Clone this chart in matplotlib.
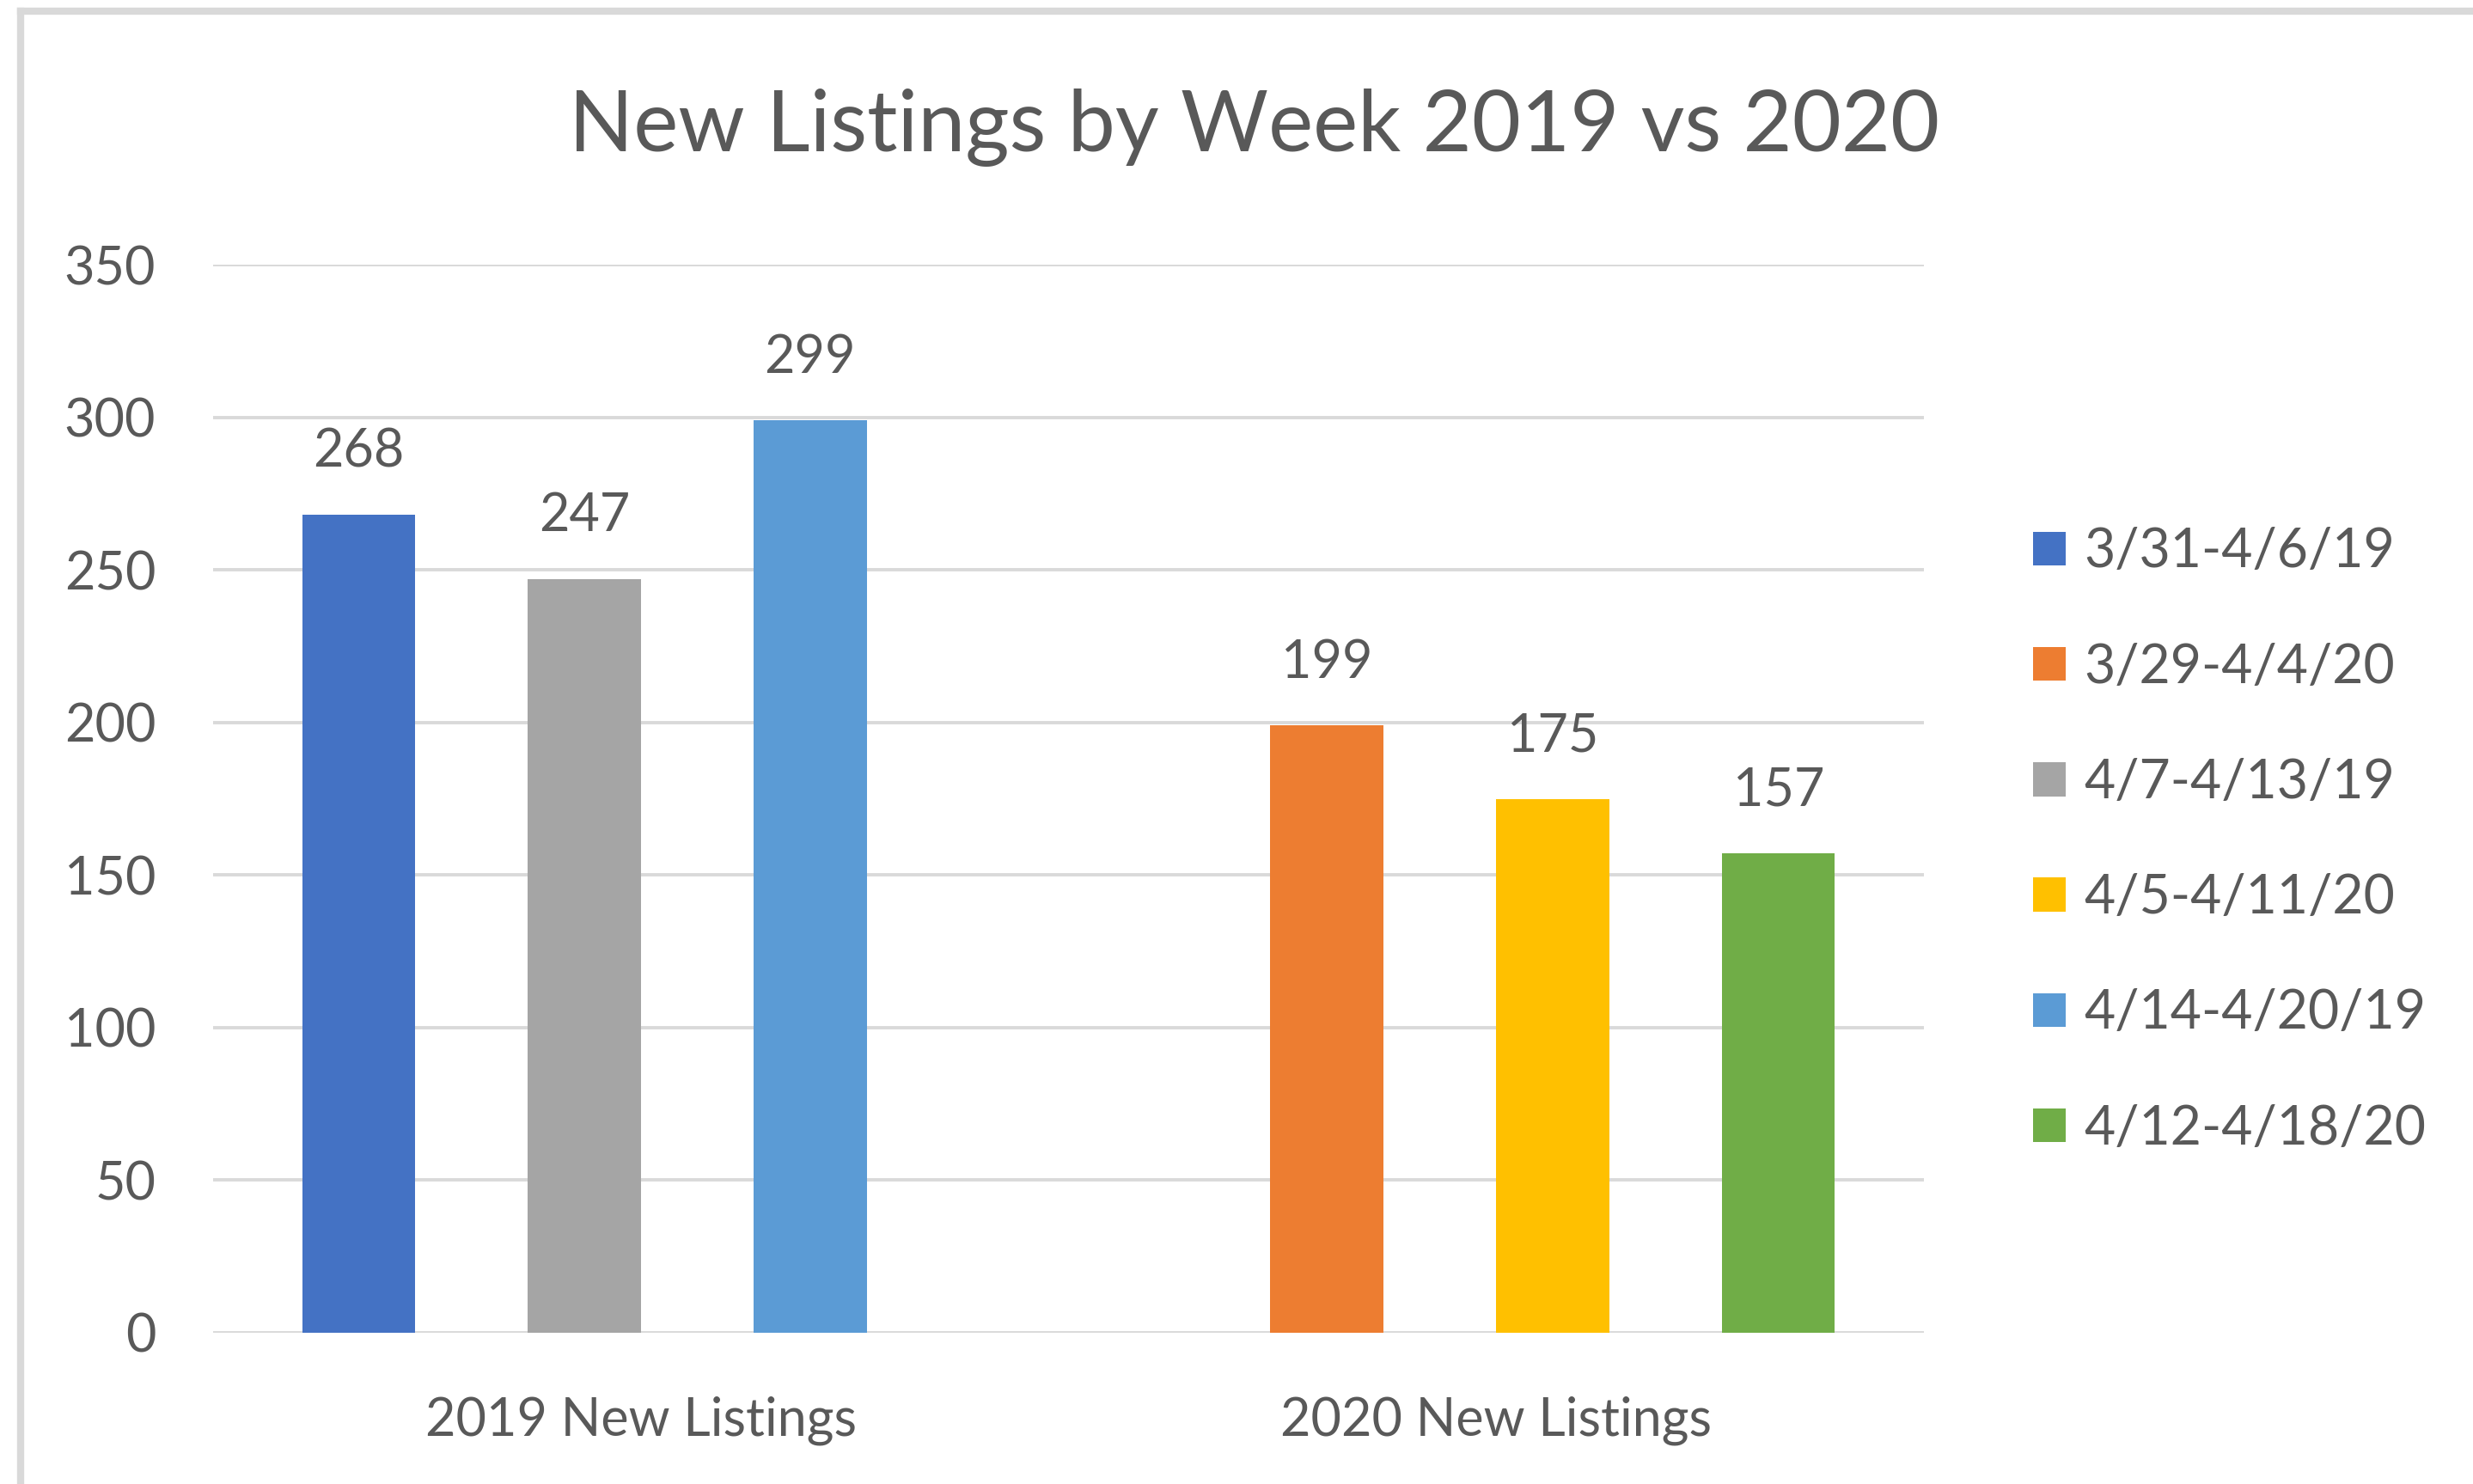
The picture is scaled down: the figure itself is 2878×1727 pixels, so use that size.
import numpy as np
import matplotlib.pyplot as plt

# data
categories = ["2019 New Listings", "2020 New Listings"]
series_names = ["3/31-4/6/19", "3/29-4/4/20", "4/7-4/13/19",
                "4/5-4/11/20", "4/14-4/20/19", "4/12-4/18/20"]
series_values = [
    [268, np.nan],
    [np.nan, 199],
    [247, np.nan],
    [np.nan, 175],
    [299, np.nan],
    [np.nan, 157],
]
colors = ["#4472C4", "#ED7D31", "#A5A5A5", "#FFC000", "#5B9BD5", "#70AD47"]
yticks = [0, 50, 100, 150, 200, 250, 300, 350]

plt.rcParams['font.family'] = ['Lato', 'DejaVu Sans']
txt = "#595959"

W, H = 2878, 1727
fig = plt.figure(figsize=(W / 100, H / 100), dpi=100)
ax = fig.add_axes([248 / W, (H - 1551) / H, (2239 - 248) / W, (1551 - 308) / H])

x = np.arange(len(categories))
w = 0.132
for i, (name, vals) in enumerate(zip(series_names, series_values)):
    off = (i - 2.5) * w
    bars = ax.bar(x + off, vals, width=w, color=colors[i], label=name, zorder=3)
    for b, v in zip(bars, vals):
        if not np.isnan(v):
            ax.annotate(str(int(v)), (b.get_x() + b.get_width() / 2, v),
                        xytext=(0, 32), textcoords="offset points",
                        ha="center", va="bottom", fontsize=44, color=txt)

ax.set_xlim(-0.5, 1.5)
ax.set_ylim(0, 350)
ax.set_yticks(yticks)
ax.set_xticks(x)
ax.set_xticklabels(categories)
ax.tick_params(axis="y", length=0, pad=48, labelsize=44, labelcolor=txt)
ax.tick_params(axis="x", length=0, pad=53, labelsize=44, labelcolor=txt)
ax.grid(axis="y", color="#D9D9D9", linewidth=2.8, zorder=0)
for s in ax.spines.values():
    s.set_visible(False)
ax.set_axisbelow(True)

fig.text(1460 / W, 1 - 148 / H, "New Listings by Week 2019 vs 2020",
         ha="center", va="center", fontsize=71, color=txt)

fig.legend(loc="center left", bbox_to_anchor=(2310 / W, 1 - 978 / H),
           frameon=False, fontsize=45, handlelength=0.6, handleheight=0.6,
           handletextpad=0.35, labelspacing=1.22, labelcolor=txt)

# chart border (top and left only visible)
fig.add_artist(plt.Line2D([24 / W, 24 / W], [0, 1 - 13 / H], transform=fig.transFigure,
                          color="#D9D9D9", linewidth=6))
fig.add_artist(plt.Line2D([24 / W, 1], [1 - 13 / H, 1 - 13 / H], transform=fig.transFigure,
                          color="#D9D9D9", linewidth=6))

fig.savefig("out.png", dpi=100)
